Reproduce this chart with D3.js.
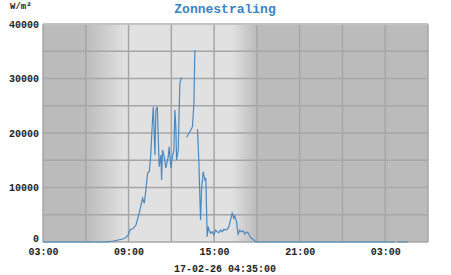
<!DOCTYPE html>
<html><head><meta charset="utf-8">
<script src="https://cdn.jsdelivr.net/npm/d3@7"></script>
<style>body{margin:0;background:#fff}svg{display:block}</style>
</head><body>
<script>
const times = ["16 03:00","16 07:20","16 07:56","16 08:31","16 08:45","16 08:59","16 09:06","16 09:20","16 09:31","16 09:41","16 09:51","16 09:59","16 10:06","16 10:13","16 10:20","16 10:27","16 10:33","16 10:37","16 10:44","16 10:51","16 10:55","16 11:01","16 11:09","16 11:16","16 11:19","16 11:23","16 11:30","16 11:37","16 11:47","16 11:51","16 11:58","16 12:05","16 12:11","16 12:15","16 12:19","16 12:22","16 12:29","16 12:33","16 12:36","16 12:43","16 12:50","16 13:04","16 13:18","16 13:29","16 13:35","16 13:39","16 13:45","16 13:50","16 13:56","16 14:00","16 14:03","16 14:07","16 14:14","16 14:21","16 14:25","16 14:31","16 14:35","16 14:39","16 14:45","16 14:52","16 14:59","16 15:06","16 15:13","16 15:20","16 15:27","16 15:34","16 15:41","16 15:48","16 15:55","16 16:02","16 16:09","16 16:16","16 16:23","16 16:27","16 16:34","16 16:41","16 16:48","16 16:55","16 17:02","16 17:09","16 17:16","16 17:23","16 17:30","16 17:37","16 17:44","16 17:51","16 17:59","17 03:40","17 03:45","17 03:52","17 04:35"];
const values = [0,0,180,500,680,1280,2200,2510,3120,4640,6480,8020,7100,9540,12660,12900,15650,19300,24830,15960,24220,24830,13820,15960,11380,16880,15650,13580,15650,17490,13580,15650,16880,24220,21160,15050,16880,24220,29120,30220,null,19210,20240,21160,25450,35230,null,20680,14500,8310,4040,9540,12900,11380,11740,970,2810,2200,1600,1890,1280,2200,1890,1710,2200,1890,2330,2200,2330,2810,4040,5270,4350,4770,3730,1470,2200,1890,2070,1470,1840,1710,1100,680,500,180,0,0,null,0,0];
const yTicks = [0,10000,20000,30000,40000];
const xTickLabels = ["03:00","09:00","15:00","21:00","03:00"];
const title = "Zonnestraling";
const unitLabel = "W/m²";
const stampLabel = "17-02-26 04:35:00";
const dayStart = "16 03:00", dayEnd = "17 06:00";
const twilight = ["16 06:00","16 08:45","16 16:15","16 18:00"];

const W = 451, H = 275;
const m = {l:43, r:23, t:24, b:33};
const parse = d3.timeParse("%d %H:%M");
const svg = d3.select("body").append("svg").attr("width", W).attr("height", H);
const t0 = parse(dayStart), t1 = parse(dayEnd);
const x = d3.scaleTime().domain([t0, t1]).range([m.l, W - m.r]);
const y = d3.scaleLinear().domain([0, 40000]).range([H - m.b, m.t]);

const defs = svg.append("defs");
const dark = "#bbbbbb", light = "#e1e1e1";
const g = defs.append("linearGradient").attr("id","bg").attr("gradientUnits","userSpaceOnUse")
  .attr("x1", m.l).attr("x2", W - m.r).attr("y1",0).attr("y2",0);
const span = (W - m.r) - m.l;
const stops = [[twilight[0],dark],[twilight[1],light],[twilight[2],light],[twilight[3],dark]];
g.append("stop").attr("offset",0).attr("stop-color",dark);
stops.forEach(([t,c]) => g.append("stop").attr("offset",(x(parse(t))-m.l)/span).attr("stop-color",c));
g.append("stop").attr("offset",1).attr("stop-color",dark);

svg.append("rect").attr("x",m.l).attr("y",m.t).attr("width",span).attr("height",y(0)-m.t).attr("fill","url(#bg)");

// grid
const gridTicks = d3.range(0, 40001, 5000);
svg.append("g").selectAll("line").data(gridTicks).join("line")
  .attr("x1",m.l).attr("x2",W-m.r).attr("y1",d=>y(d)).attr("y2",d=>y(d))
  .attr("stroke","#a6a6a6").attr("stroke-width",1.5);
const xGrid = d3.timeHour.range(t0, d3.timeMinute.offset(t1,1), 3);
svg.append("g").selectAll("line").data(xGrid).join("line")
  .attr("x1",d=>x(d)).attr("x2",d=>x(d)).attr("y1",m.t).attr("y2",y(0))
  .attr("stroke","#a6a6a6").attr("stroke-width",1.5);
svg.append("line").attr("x1",m.l).attr("x2",W-m.r).attr("y1",m.t).attr("y2",m.t).attr("stroke","#c8c8c8").attr("stroke-width",1.5);

// axes
const font = "'Liberation Mono', 'Courier New', monospace";
const yAxis = d3.axisLeft(y).tickValues(yTicks).tickSize(0).tickPadding(4).tickFormat(d3.format("d"));
svg.append("g").attr("transform",`translate(${m.l},0)`).call(yAxis)
  .call(s=>s.select(".domain").remove())
  .call(s=>s.selectAll(".tick").filter(d=>d===0).select("text").attr("dy","-0.05em"))
  .selectAll("text").attr("font-family",font).attr("font-weight","bold").attr("font-size",10).attr("fill","#222");
const xTickVals = d3.timeHour.range(t0, t1, 6);
const xAxis = d3.axisBottom(x).tickValues(xTickVals).tickSize(0).tickPadding(6)
  .tickFormat((d,i)=>xTickLabels[i]);
svg.append("g").attr("transform",`translate(0,${y(0)})`).call(xAxis)
  .call(s=>s.select(".domain").remove())
  .selectAll("text").attr("font-family",font).attr("font-weight","bold").attr("font-size",10).attr("fill","#222");

// line
const data = times.map((t,i)=>({t:parse(t), v:values[i]}));
svg.append("path").datum(data)
  .attr("fill","none").attr("stroke","#4a89c0").attr("stroke-width",1.2)
  .attr("d", d3.line().defined(d=>d.v!==null).x(d=>x(d.t)).y(d=>y(d.v)));

// texts
svg.append("text").attr("x",225).attr("y",13).attr("text-anchor","middle")
  .attr("font-family",font).attr("font-weight","bold").attr("font-size",13).attr("fill","#3d82c4").text(title);
svg.append("text").attr("x",10).attr("y",9).attr("font-family",font).attr("font-weight","bold").attr("font-size",9).attr("fill","#222").text(unitLabel);
svg.append("text").attr("x",225).attr("y",272).attr("text-anchor","middle")
  .attr("font-family",font).attr("font-weight","bold").attr("font-size",10).attr("fill","#222").text(stampLabel);
</script>
</body></html>
